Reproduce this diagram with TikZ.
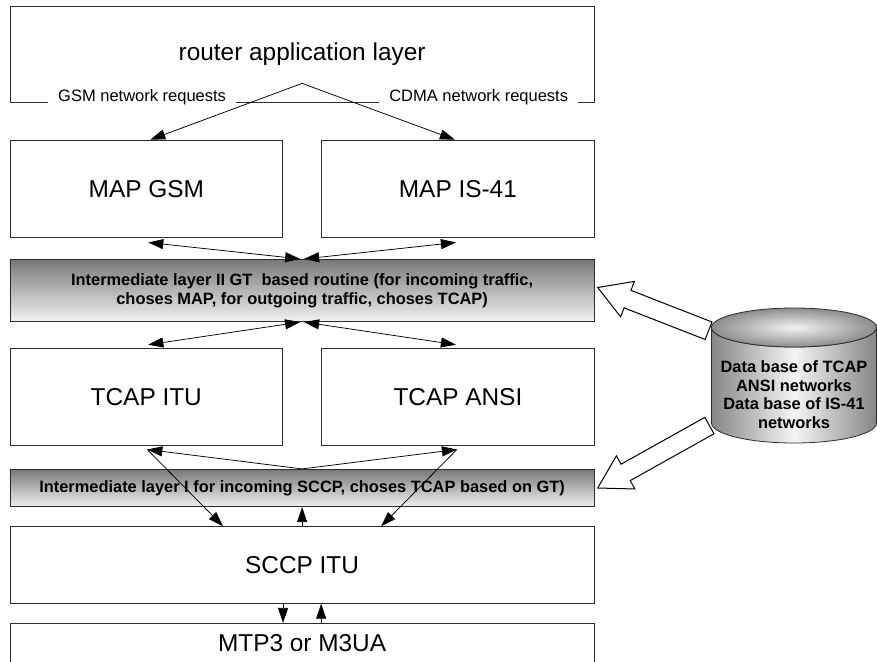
\documentclass[tikz,border=0pt]{standalone}
\usepackage{fontspec}
\setmainfont{Liberation Sans}
\usetikzlibrary{arrows.meta,calc}
\definecolor{LayerTop}{RGB}{120,120,120}
\definecolor{LayerBottom}{RGB}{242,242,242}
\definecolor{Edge}{RGB}{45,45,45}

\begin{document}
\begin{tikzpicture}[x=1pt,y=-1pt,
  box/.style={draw=Edge,line width=0.8pt,inner sep=0pt,minimum width=272.7pt,minimum height=97pt,font=\fontsize{24.4}{29}\selectfont},
  widebox/.style={box,minimum width=584.4pt},
  layer/.style={draw=Edge,line width=0.8pt,inner sep=0pt,minimum width=584.4pt,top color=LayerTop,bottom color=LayerBottom,align=center,font=\fontsize{16.4}{19.3}\selectfont\bfseries},
  req/.style={fill=white,inner xsep=10pt,inner ysep=2pt,anchor=base,font=\fontsize{16.5}{20}\selectfont},
  conn/.style={line width=0.75pt,-{Triangle[length=15pt,width=10pt]}},
  dconn/.style={line width=0.75pt,{Triangle[length=15pt,width=10pt]}-{Triangle[length=15pt,width=10pt]}},
  block/.style={draw=black,line width=1pt,fill=white,line join=miter}]
\useasboundingbox (0,0) rectangle (877,661);
%\draw[help lines] (0,0) grid[step=50] (877,661);

% layers
\node[widebox,minimum height=96pt] (top) at (302.1,54) {router application layer};
\node[box] (mapgsm) at (146.3,188.6) {MAP GSM};
\node[box] (mapis) at (457.9,188.6) {MAP IS-41};
\node[layer,minimum height=62.4pt] (layerII) at (302.1,290.5) {Intermediate layer II GT\ \ based routine (for incoming traffic,\\choses MAP, for outgoing traffic, choses TCAP)};
\node[box] (tcapitu) at (146.3,396.6) {TCAP ITU};
\node[box] (tcapansi) at (457.9,396.6) {TCAP ANSI};
\node[layer,minimum height=37.4pt] (layerI) at (302.1,488) {Intermediate layer I for incoming SCCP, choses TCAP based on GT)};
\node[widebox,minimum height=76.6pt] (sccp) at (302.1,565) {SCCP ITU};
\node[widebox,minimum height=40.4pt] (mtp) at (302.1,643.5) {MTP3 or M3UA};

\node[req] (gsmreq) at (142.1,101.5) {GSM network requests};
\node[req] (cdmareq) at (478.7,101.5) {CDMA network requests};

% connectors
\coordinate (apex) at ($(top.south)+(0,-19)$);
\draw[conn] (apex) -- ([xshift=4pt]mapgsm.north);
\draw[conn] (apex) -- ([xshift=-3pt]mapis.north);
\draw[dconn] ([xshift=2pt,yshift=-5pt]mapgsm.south) -- ([xshift=-2pt]layerII.north);
\draw[dconn] ([xshift=2pt]layerII.north) -- ([xshift=-2pt,yshift=-5pt]mapis.south);
\draw[dconn] ([xshift=-2pt]layerII.south) -- ([xshift=2pt,yshift=3pt]tcapitu.north);
\draw[dconn] ([xshift=2pt]layerII.south) -- ([xshift=-2pt,yshift=3pt]tcapansi.north);
\coordinate (ituport) at ([xshift=1pt,yshift=-4pt]tcapitu.south);
\coordinate (ansiport) at ([xshift=-1pt,yshift=-4pt]tcapansi.south);
\draw[conn] (layerI.north) -- (ituport);
\draw[conn] (layerI.north) -- (ansiport);
\draw[conn] (ituport) -- ([xshift=-79pt]sccp.north);
\draw[conn] (ansiport) -- ([xshift=79pt]sccp.north);
\draw[conn] (sccp.north) -- (layerI.south);
\draw[conn] (sccp.south -| mapgsm.east) -- (mtp.north -| mapgsm.east);
\draw[conn] (mtp.north -| mapis.west) -- (sccp.south -| mapis.west);

% data base
\shade[left color=gray!95,right color=gray!95,middle color=gray!8,draw=Edge,line width=0.8pt]
  (711.5,327.5) -- (711.5,423) arc[start angle=180,end angle=0,x radius=82.5,y radius=20]
  -- (876.5,327.5) arc[start angle=0,end angle=180,x radius=82.5,y radius=19.5] -- cycle;
\shade[inner color=gray!10,outer color=gray!90,draw=Edge,line width=0.8pt]
  (794,327.5) ellipse[x radius=82.5,y radius=19.5];
\node[align=center,font=\fontsize{16.4}{18.5}\selectfont\bfseries] (db) at (794,394.6)
  {Data base of TCAP\\ANSI networks\\Data base of IS-41\\networks};

\coordinate (upTip) at ([xshift=3pt,yshift=3pt]layerII.east);
\coordinate (loTip) at ([xshift=3pt]layerI.east);
\begin{scope}[shift={(upTip)},rotate=-21.3]
\draw[block] (0,0) -- (32,-19) -- (32,-9.4) -- (119,-9.4) -- (119,9.4) -- (32,9.4) -- (32,19) -- cycle;
\end{scope}
\begin{scope}[shift={(loTip)},rotate=29.2]
\draw[block] (0,0) -- (32,-19) -- (32,-9.4) -- (128,-9.4) -- (128,9.4) -- (32,9.4) -- (32,19) -- cycle;
\end{scope}
\end{tikzpicture}
\end{document}
